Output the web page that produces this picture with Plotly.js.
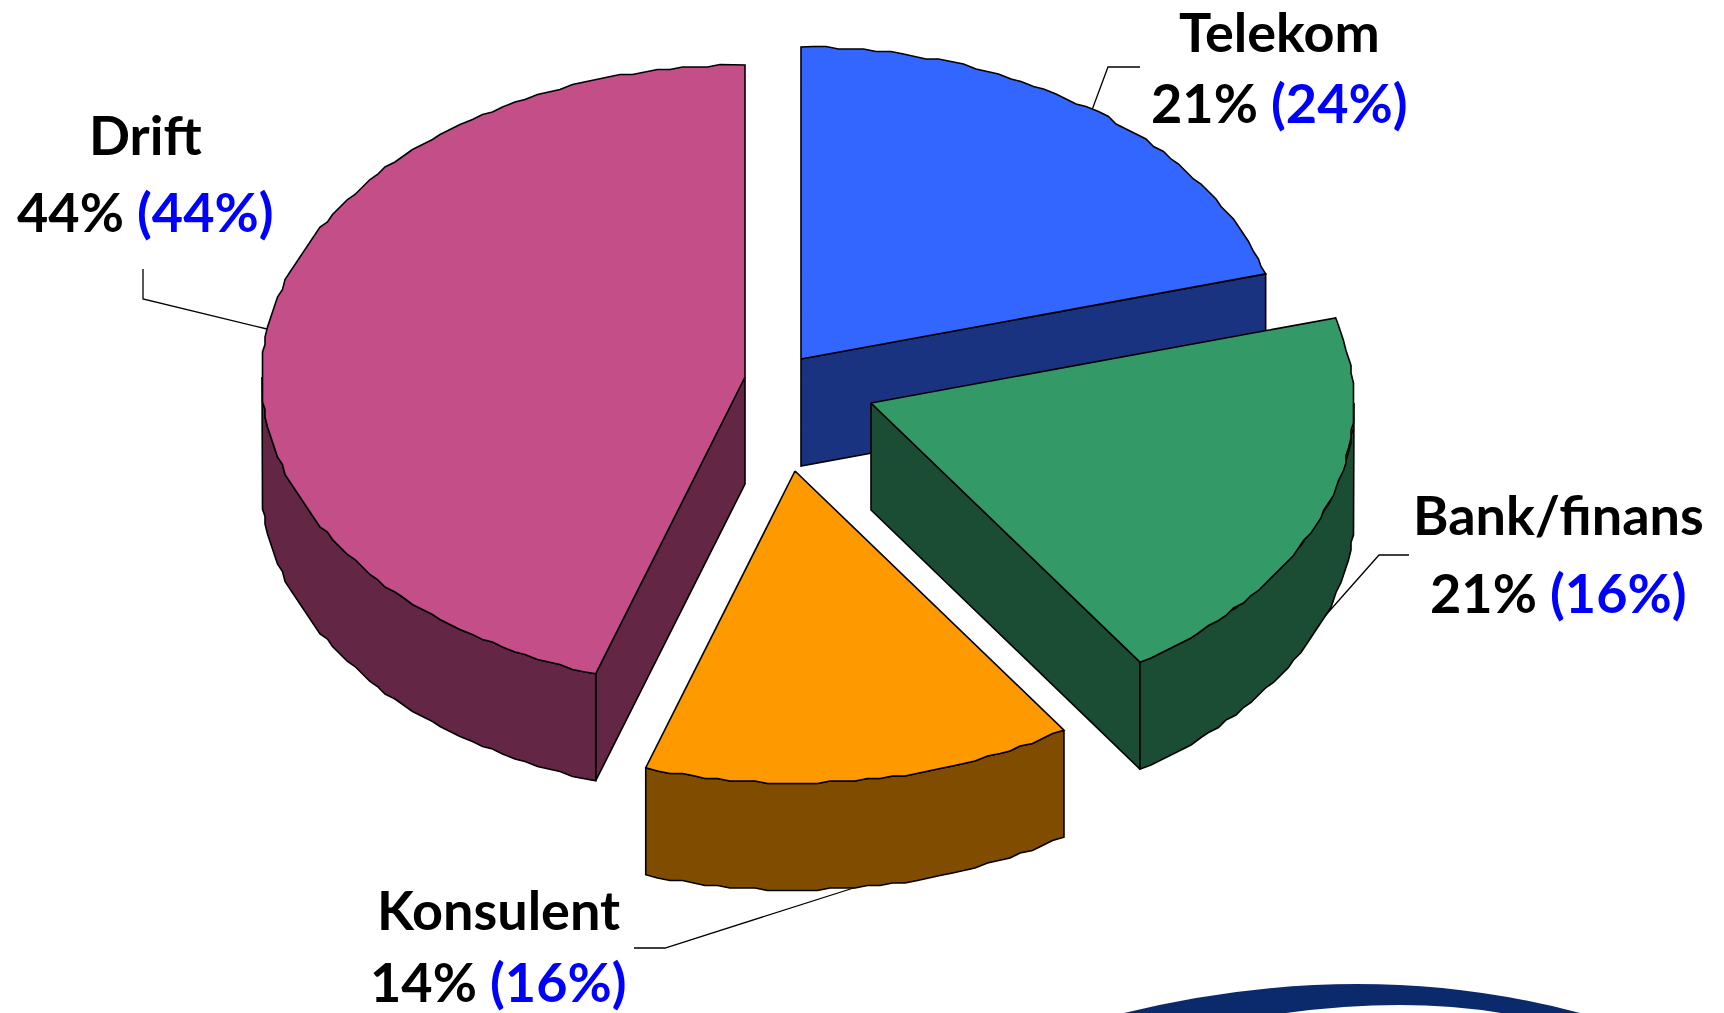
<!DOCTYPE html>
<html>
<head>
<meta charset="utf-8">
<script src="https://cdn.plot.ly/plotly-3.0.1.min.js"></script>
<style>html,body{margin:0;padding:0;background:#fff}#chart{width:1724px;height:1013px}</style>
</head>
<body>
<div id="chart"></div>
<script>
// Data
const categories = ["Telekom", "Bank/finans", "Konsulent", "Drift"];
const currentLabels = [21, 21, 14, 44];
const previousLabels = [24, 16, 16, 44];
const sliceShares = [20.6, 20.0, 14.4, 45.0];   // drawn size of each slice, percent

// Styling
const topColors = ["#3366FF", "#339966", "#FF9900", "#C44E88"];
const sideColors = ["#1A3380", "#1A4D33", "#804D00", "#632745"];
const drawOrder = [0, 3, 2, 1];
const pie = {cx: 780, cy: 378, rx: 483, ry: 312, depth: 107, grid: 2.5, stepDeg: 1.5};
const explodeX = [21, 91, 15, -35];
const explodeY = [-19, 25, 93, -1];
const labelX = [1279, 1558, 498, 145];
const labelY1 = [31, 514, 909, 134];
const labelY2 = [102, 592, 981, 211];
const leaderX = [[1140,1108,1092],[1409,1379,1325],[634,665,863],[143,143,267]];
const leaderY = [[67,67,110],[555,555,616],[948,948,885],[269,299,329]];
const font = "'Comic Sans MS','Lato','Open Sans',sans-serif";

const rad = d => d * Math.PI / 180;
const snap = v => Math.round(v / pie.grid) * pie.grid;
function rim(deg, exact) {
  const dx = pie.rx * Math.sin(rad(deg)), dy = -pie.ry * Math.cos(rad(deg));
  return exact ? [dx, dy] : [snap(dx), snap(dy)];
}
function arc(from, to) {
  const pts = [rim(from, true)];
  const n = Math.max(1, Math.round(Math.abs(to - from) / pie.stepDeg));
  for (let i = 1; i < n; i++) pts.push(rim(from + (to - from) * i / n, false));
  pts.push(rim(to, true));
  return pts;
}
function poly(xs, ys, color) {
  return {type: "scatter", mode: "lines", x: xs.concat(xs[0]), y: ys.concat(ys[0]),
    fill: "toself", fillcolor: color, line: {color: "#000", width: 1.6, shape: "linear"},
    hoverinfo: "skip", showlegend: false};
}

const traces = [];
categories.forEach((c, i) => {
  traces.push({type: "scatter", mode: "lines", x: leaderX[i], y: leaderY[i],
    line: {color: "#000", width: 1.3}, hoverinfo: "skip", showlegend: false});
});

let acc = 0;
const starts = sliceShares.map(s => { const a = acc; acc += s * 3.6; return a; });
drawOrder.forEach(i => {
  const s = starts[i], e = s + sliceShares[i] * 3.6;
  const ax = pie.cx + explodeX[i], ay = pie.cy + explodeY[i], d = pie.depth;
  const mid = rim((s + e) / 2, true), mx = mid[0] / 2, my = mid[1] / 2;
  // radial faces that look towards the viewer
  [s, e].forEach(ang => {
    const p = rim(ang, true);
    if (Math.abs(p[0]) < 1) return;
    const lineY = p[1] / p[0] * mx;
    if (my < lineY) {
      traces.push(poly([ax, ax + p[0], ax + p[0], ax], [ay, ay + p[1], ay + p[1] + d, ay + d], sideColors[i]));
    }
  });
  // outer wall
  const ws = Math.max(s, 90), we = Math.min(e, 270);
  if (we > ws) {
    const a = arc(ws, we);
    const xs = a.map(p => ax + p[0]).concat(a.slice().reverse().map(p => ax + p[0]));
    const ys = a.map(p => ay + p[1]).concat(a.slice().reverse().map(p => ay + p[1] + d));
    traces.push(poly(xs, ys, sideColors[i]));
  }
  // top face
  const t = arc(s, e);
  traces.push(poly([ax].concat(t.map(p => ax + p[0])), [ay].concat(t.map(p => ay + p[1])), topColors[i]));
});

const annotations = [];
categories.forEach((c, i) => {
  annotations.push({x: labelX[i], y: labelY1[i], xref: "x", yref: "y", showarrow: false,
    text: "<b>" + c + "</b>", font: {family: font, size: 54, color: "#000"}});
  annotations.push({x: labelX[i], y: labelY2[i], xref: "x", yref: "y", showarrow: false,
    text: "<b>" + currentLabels[i] + "% <span style='color:#0000FF'>(" + previousLabels[i] + "%)</span></b>",
    font: {family: font, size: 54, color: "#000"}});
});

const layout = {
  width: 1724, height: 1013, margin: {l: 0, r: 0, t: 0, b: 0},
  paper_bgcolor: "#fff", plot_bgcolor: "#fff", showlegend: false,
  xaxis: {range: [0, 1724], visible: false, fixedrange: true},
  yaxis: {range: [1013, 0], visible: false, fixedrange: true},
  annotations,
  shapes: [{type: "path", xref: "x", yref: "y", layer: "below", line: {width: 0}, fillcolor: "#0A2A6B",
    path: "M 1124 1013 Q 1362 955 1580 1013 L 1501 1013 Q 1405 997 1286 1013 Z"}]
};
Plotly.newPlot("chart", traces, layout, {staticPlot: true, displayModeBar: false});
</script>
</body>
</html>
